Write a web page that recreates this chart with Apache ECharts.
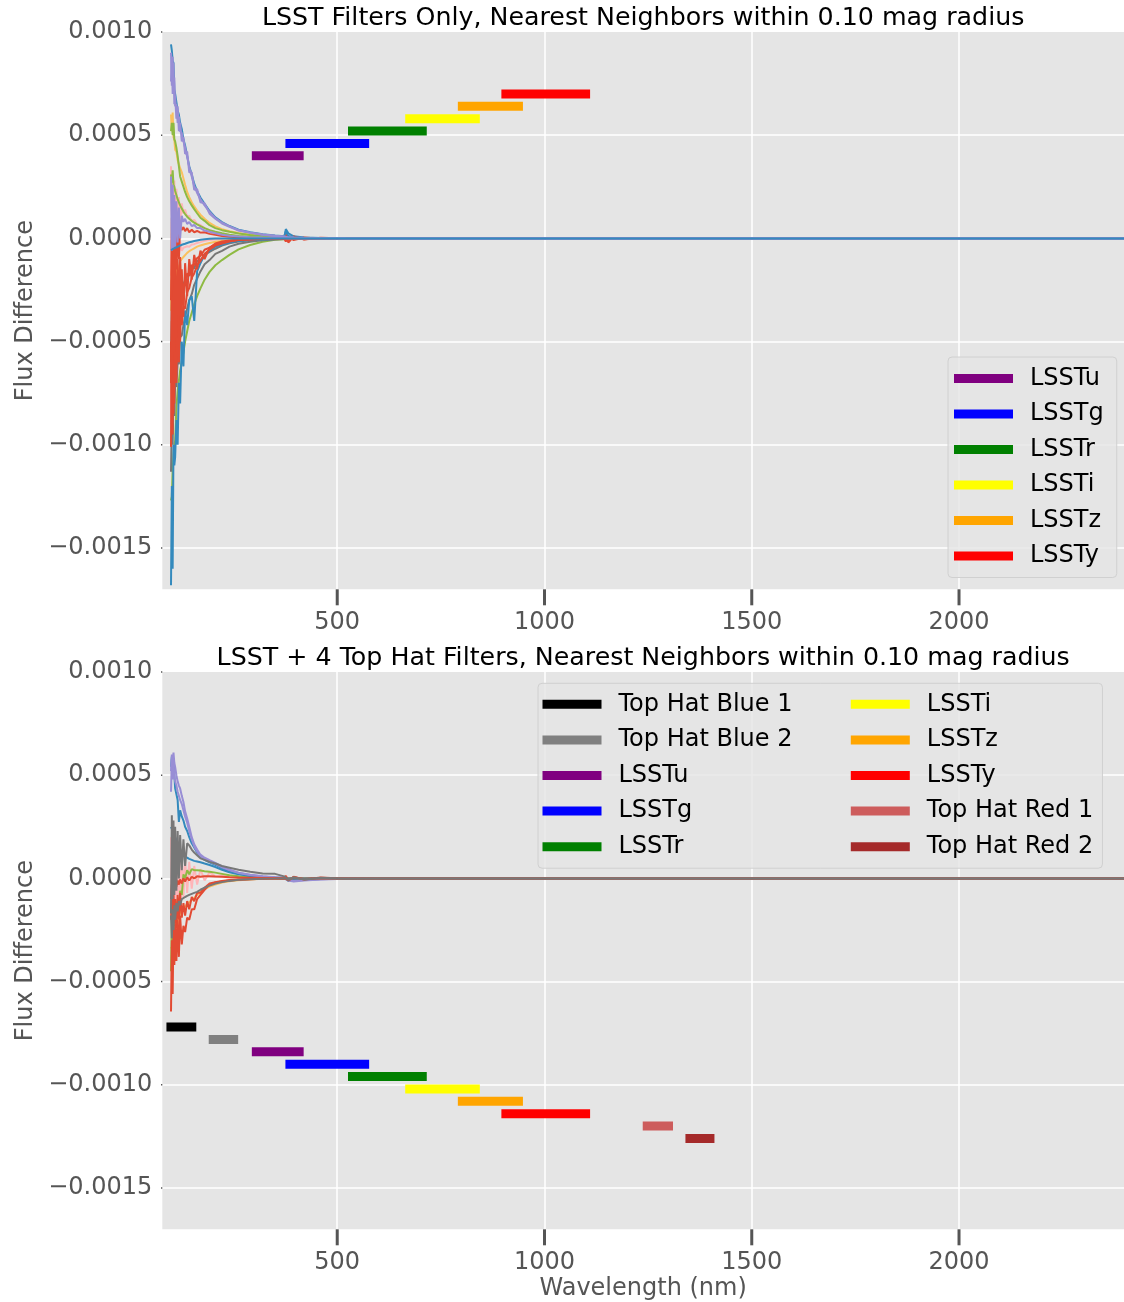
<!DOCTYPE html>
<html><head><meta charset="utf-8">
<script src="https://cdn.jsdelivr.net/npm/echarts@6/dist/echarts.min.js"></script>
<style>html,body{margin:0;padding:0;background:#fff}#c{width:1124px;height:1302px}</style>
</head><body><div id="c"></div>
<script>
// ---------------- data ----------------
// wavelength samples (nm) shared by the flux-difference curves
const wl = [99,101,103,105,107,109,112,115,118,121,125,129,133,138,143,149,155,162,170,180,192,206,222,240,262,290,320,350,372,376,382,395,420,460,520,600,800,1200,2400];
// curve values are in units of 1e-6 flux
const UNIT = 1e-6;

// top panel curves (LSST filters only)
const tK1 = [350,100,300,80,280,60,240,70,200,60,170,120,140,105,110,85,90,70,65,50,40,25,20,15,10,6,4,3,2,2,1,1,0,0,0,0,0,0,0];
const tK2 = [-180,0,-150,-20,-130,-10,-110,-20,-90,-15,-60,-45,-50,-38,-40,-30,-28,-22,-18,-12,-8,-5,-3,-2,-1,0,0,0,0,0,0,0,0,0,0,0,0,0,0];
const tY1 = [600,520,610,490,480,430,420,380,360,340,320,290,260,225,200,175,155,135,115,95,75,58,45,35,26,18,12,8,6,5,4,3,2,1,0,0,0,0,0];
const tY2 = [-350,-150,-300,-200,-250,-150,-200,-130,-150,-110,-110,-90,-85,-70,-62,-55,-48,-40,-34,-28,-22,-16,-12,-8,-5,-3,-2,-1,0,0,0,0,0,0,0,0,0,0,0];
const tG1 = [520,560,500,560,480,470,440,400,350,300,275,250,225,200,180,160,142,122,100,85,64,50,40,32,24,16,10,7,5,4,3,2,1,0,0,0,0,0,0];
const tG2 = [310,270,330,260,250,230,210,190,175,160,145,130,118,105,95,85,76,68,60,50,40,32,25,18,12,8,5,3,2,2,1,1,0,0,0,0,0,0,0];
const tG3 = [-1270,-1250,-1120,-1050,-1000,-980,-820,-740,-690,-640,-600,-550,-500,-450,-400,-360,-320,-280,-242,-200,-162,-130,-105,-80,-53,-32,-16,-7,-4,-3,-2,-1,0,0,0,0,0,0,0];
const tGr1 = [-1130,-880,-1000,-760,-860,-700,-720,-600,-610,-480,-470,-420,-380,-340,-300,-270,-225,-195,-160,-125,-105,-75,-60,-40,-26,-16,-9,-5,-3,-2,-1,0,0,0,0,0,0,0,0];
const tGr2 = [-600,-300,-560,-320,-480,-280,-420,-250,-350,-220,-270,-220,-220,-180,-180,-145,-145,-110,-105,-80,-65,-50,-35,-24,-15,-9,-5,-3,-2,-1,0,0,0,0,0,0,0,0,0];
const tB3 = [-1680,-1200,-1600,-1000,-1100,-1060,-880,-1000,-700,-800,-500,-620,-350,-420,-300,-280,-400,-160,-120,-80,-60,-40,-30,-20,-12,-8,-5,-3,-1,45,25,10,5,2,0,0,0,0,0];
const tR1 = [-1010,-400,-950,-350,-800,-300,-700,-250,-600,-200,-420,-330,-340,-260,-240,-190,-170,-130,-110,-75,-55,-35,-25,-15,-8,-5,-3,-2,-1,20,-20,10,-5,3,0,0,0,0,0];
const tR2 = [-700,-200,-650,-150,-550,-120,-480,-100,-400,-90,-300,-220,-230,-170,-180,-130,-130,-95,-85,-55,-45,-25,-15,-10,-6,-4,-2,-1,0,-15,10,-8,4,-2,0,0,0,0,0];
const tR3 = [-300,100,-250,80,-200,60,-150,70,-100,60,40,55,35,50,30,42,30,36,28,30,22,18,12,8,5,3,2,1,0,15,-15,8,-4,2,0,0,0,0,0];
const tR4 = [-500,-900,-300,-850,-250,-700,-200,-600,-180,-500,-150,-380,-120,-280,-100,-200,-80,-150,-60,-100,-45,-30,-20,-12,-7,-4,-2,-1,0,10,-10,5,-3,1,0,0,0,0,0];
const tP2 = [300,-60,260,-50,210,-40,180,-20,150,0,110,80,95,70,80,60,65,50,50,38,32,25,18,13,9,6,4,3,2,2,1,1,0,0,0,0,0,0,0];
const tB1 = [940,910,860,850,720,700,660,620,600,560,530,480,450,400,350,310,265,228,198,168,133,102,79,60,42,30,20,14,10,35,12,6,3,2,1,0,0,0,0];
const tP1 = [900,740,880,700,780,640,650,560,590,520,510,470,440,395,345,300,255,220,190,160,128,98,76,58,40,28,19,13,9,8,5,4,3,2,1,0,0,0,0];
const tP3 = [760,880,700,850,650,690,580,640,520,560,470,490,410,420,320,320,235,240,175,170,120,95,72,56,38,27,18,12,8,6,4,3,2,1,0,0,0,0,0];
const tB2 = [-57,-55,-53,-50,-48,-46,-43,-40,-37,-35,-31,-28,-26,-22,-19,-16,-13,-10,-7,-4,-2,-1,0,0,0,0,0,0,0,0,0,0,0,0,0,0,0,0,0];

// bottom panel curves (LSST + 4 top hat filters)
const bK1 = [200,-200,180,-180,160,-150,140,-130,120,-110,110,-90,95,-70,80,-50,60,-30,45,-10,30,10,15,8,5,3,2,1,0,0,0,0,0,0,0,0,0,0,0];
const bY1 = [-330,-340,-320,-310,-290,-260,-250,-220,-190,-170,-160,-145,-135,-125,-115,-105,-95,-80,-65,-52,-40,-30,-20,-14,-9,-5,-2,-1,0,0,0,0,0,0,0,0,0,0,0];
const bG1 = [-450,-200,-400,-180,-230,-150,-200,-100,-150,-60,-80,20,0,40,20,45,40,40,38,35,32,28,22,15,10,6,3,1,0,0,0,0,0,0,0,0,0,0,0];
const bB2 = [250,240,230,220,210,200,185,170,155,140,125,113,105,100,95,90,85,82,78,72,65,55,42,30,20,12,6,3,1,0,0,0,0,0,0,0,0,0,0];
const bB1 = [540,590,530,580,500,436,440,380,274,330,300,280,250,230,200,170,150,125,105,90,78,66,50,36,24,14,8,4,2,8,-12,-8,-6,-3,-1,0,0,0,0];
const bP2 = [420,580,480,560,500,470,450,420,400,380,360,330,300,270,230,190,155,130,108,95,82,70,54,40,26,16,9,5,3,1,-8,-12,-8,-4,-1,0,0,0,0];
const bP1 = [520,600,560,610,560,540,500,470,450,436,400,370,325,290,250,200,165,140,115,100,88,75,58,42,28,18,10,6,3,2,-10,-15,-10,-5,-2,0,0,0,0];
const bR3 = [-200,-80,-250,-60,-220,-100,-240,-80,-200,-70,-190,-120,-180,-110,-150,-90,-110,-70,-70,-45,-25,-18,-12,-8,-5,-3,-2,-1,0,8,-8,5,-3,1,0,0,0,0,0];
const bR1 = [-645,-300,-560,-250,-420,-220,-400,-200,-380,-180,-320,-230,-260,-190,-200,-150,-150,-100,-80,-55,-30,-20,-15,-10,-6,-4,-2,-1,0,10,-10,8,-5,4,-2,0,0,0,0];
const bR2 = [-100,-30,-60,-20,-50,-15,-40,-10,-30,-5,-25,0,-15,5,-10,8,0,10,8,10,10,9,8,6,4,3,2,1,0,12,-10,6,-3,2,0,0,0,0,0];
const bGr2 = [-180,-290,-150,-250,-130,-200,-120,-160,-110,-130,-100,-100,-90,-85,-80,-75,-70,-65,-55,-45,-35,-25,-18,-12,-7,-4,-2,-1,0,0,0,0,0,0,0,0,0,0,0];
const bGr1 = [-170,306,-100,280,-80,250,-60,230,0,210,40,190,60,170,160,140,125,112,97,90,80,72,60,52,42,32,24,22,10,14,-8,6,-6,3,-2,0,0,0,0];

// filter bands (wavelength range in nm, plotted level)
const topFilterNames = ['LSSTu','LSSTg','LSSTr','LSSTi','LSSTz','LSSTy'];
const topFilterLo = [294,375,526,664,791,896];
const topFilterHi = [419,577,716,844,948,1110];
const topFilterLevel = [0.00040,0.00046,0.00052,0.00058,0.00064,0.00070];

const botFilterNames = ['Top Hat Blue 1','Top Hat Blue 2','LSSTu','LSSTg','LSSTr','LSSTi','LSSTz','LSSTy','Top Hat Red 1','Top Hat Red 2'];
const botFilterLo = [88,190,294,375,526,664,791,896,1237,1340];
const botFilterHi = [160,261,419,577,716,844,948,1110,1310,1410];
const botFilterLevel = [-0.00072,-0.00078,-0.00084,-0.00090,-0.00096,-0.00102,-0.00108,-0.00114,-0.00120,-0.00126];

// tick labels
const xTicks = [500,1000,1500,2000];
const yTicks = [-0.0015,-0.0010,-0.0005,0,0.0005,0.0010];

// ---------------- styling ----------------
const FONT = 'DejaVu Sans';
const X_MIN = 78, X_MAX = 2398, Y_MIN = -0.0017, Y_MAX = 0.0010;
const GRID_W = 965, GRID_H = 557.3;
const C = {red:'#E24A33', blue:'#348ABD', purple:'#988ED5', gray:'#777777', yellow:'#FBC15E', green:'#8EBA42', pink:'#FFB5B8'};
const filterColor = {
  'LSSTu':'#800080','LSSTg':'#0000FF','LSSTr':'#008000','LSSTi':'#FFFF00','LSSTz':'#FFA500','LSSTy':'#FF0000',
  'Top Hat Blue 1':'#000000','Top Hat Blue 2':'#808080','Top Hat Red 1':'#CD5C5C','Top Hat Red 2':'#A52A2A'
};

function fmtY(v){
  if (Math.abs(v) < 1e-12) return '0.0000';
  return (v < 0 ? '\u2212' : '') + Math.abs(v).toFixed(4);
}

function curve(name, vals, color, xi, yi){
  return {
    name, type:'line', xAxisIndex:xi, yAxisIndex:yi, silent:true, symbol:'none', z:2,
    data: wl.map((w,i)=>[w, vals[i]*UNIT]),
    lineStyle:{color, width:2}, itemStyle:{color}, color
  };
}
function band(name, lo, hi, level, xi, yi){
  const color = filterColor[name];
  return {
    name, type:'line', xAxisIndex:xi, yAxisIndex:yi, silent:true, symbol:'none', z:3,
    data: [[lo, level],[hi, level]],
    lineStyle:{color, width:9, cap:'butt'}, itemStyle:{color}, color
  };
}
// outward tick marks (matplotlib style): short unclipped segments starting on the panel edge
const X_TICK_LEN = 16 * (Y_MAX - Y_MIN) / GRID_H;   // 16 px expressed in y units
const Y_TICK_LEN = 4 * (X_MAX - X_MIN) / GRID_W;    // 4 px expressed in x units
function tickMarks(xi, yi){
  const out = [];
  xTicks.forEach(v=>out.push({
    type:'line', xAxisIndex:xi, yAxisIndex:yi, silent:true, clip:false, symbol:'none', z:10,
    data:[[v, Y_MIN],[v, Y_MIN - X_TICK_LEN]],
    lineStyle:{color:'#555555', width:3, cap:'butt'}
  }));
  yTicks.forEach(v=>out.push({
    type:'line', xAxisIndex:xi, yAxisIndex:yi, silent:true, clip:false, symbol:'none', z:10,
    data:[[X_MIN - Y_TICK_LEN, v],[X_MIN, v]],
    lineStyle:{color:'#555555', width:1.5, cap:'butt'}
  }));
  return out;
}

function mainX(gi, name){
  return {
    type:'value', gridIndex:gi, min:X_MIN, max:X_MAX, position:'bottom',
    axisLine:{show:false, onZero:false},
    axisTick:{show:false},
    axisLabel:{customValues:xTicks, color:'#555555', fontSize:24, fontFamily:FONT, margin:21,
               formatter:(v)=>String(Math.round(v))},
    splitLine:{show:true, showMinLine:false, showMaxLine:false, lineStyle:{color:'#FFFFFF', width:1.5}},
    name: name || '', nameLocation:'middle', nameGap:47,
    nameTextStyle:{color:'#555555', fontSize:24, fontFamily:FONT}
  };
}
function titleX(gi, text){
  return {
    type:'value', gridIndex:gi, min:X_MIN, max:X_MAX, position:'top',
    axisLine:{show:false, onZero:false}, axisTick:{show:false}, axisLabel:{show:false}, splitLine:{show:false},
    name:text, nameLocation:'middle', nameGap:1,
    nameTextStyle:{color:'#000000', fontSize:25.3, fontFamily:FONT}
  };
}
function mainY(gi){
  return {
    type:'value', gridIndex:gi, min:Y_MIN, max:Y_MAX,
    axisLine:{show:false, onZero:false},
    axisTick:{show:false},
    axisLabel:{customValues:yTicks, formatter:fmtY, color:'#555555', fontSize:24, fontFamily:FONT, margin:10},
    splitLine:{show:true, showMinLine:false, showMaxLine:false, lineStyle:{color:'#FFFFFF', width:1.5}},
    name:'Flux Difference', nameLocation:'middle', nameGap:122, nameRotate:90,
    nameTextStyle:{color:'#555555', fontSize:24, fontFamily:FONT}
  };
}

const legendText = {color:'#000000', fontSize:24, fontFamily:FONT, lineHeight:26, padding:[0,0,0,12]};

const series = [
  curve('t pink 1', tK1, C.pink, 0, 0),
  curve('t pink 2', tK2, C.pink, 0, 0),
  curve('t yellow 1', tY1, C.yellow, 0, 0),
  curve('t yellow 2', tY2, C.yellow, 0, 0),
  curve('t green 1', tG1, C.green, 0, 0),
  curve('t green 2', tG2, C.green, 0, 0),
  curve('t green 3', tG3, C.green, 0, 0),
  curve('t gray 1', tGr1, C.gray, 0, 0),
  curve('t gray 2', tGr2, C.gray, 0, 0),
  curve('t blue 3', tB3, C.blue, 0, 0),
  curve('t red 4', tR4, C.red, 0, 0),
  curve('t red 1', tR1, C.red, 0, 0),
  curve('t red 2', tR2, C.red, 0, 0),
  curve('t red 3', tR3, C.red, 0, 0),
  curve('t purple 2', tP2, C.purple, 0, 0),
  curve('t blue 1', tB1, C.blue, 0, 0),
  curve('t purple 1', tP1, C.purple, 0, 0),
  curve('t purple 3', tP3, C.purple, 0, 0),
  curve('t blue 2', tB2, C.blue, 0, 0),

  curve('b pink 1', bK1, C.pink, 2, 1),
  curve('b yellow 1', bY1, C.yellow, 2, 1),
  curve('b green 1', bG1, C.green, 2, 1),
  curve('b blue 2', bB2, C.blue, 2, 1),
  curve('b blue 1', bB1, C.blue, 2, 1),
  curve('b purple 2', bP2, C.purple, 2, 1),
  curve('b purple 1', bP1, C.purple, 2, 1),
  curve('b red 3', bR3, C.red, 2, 1),
  curve('b red 1', bR1, C.red, 2, 1),
  curve('b red 2', bR2, C.red, 2, 1),
  curve('b gray 2', bGr2, C.gray, 2, 1),
  curve('b gray 1', bGr1, C.gray, 2, 1)
].concat(tickMarks(0, 0), tickMarks(2, 1));
topFilterNames.forEach((n,i)=>series.push(band(n, topFilterLo[i], topFilterHi[i], topFilterLevel[i], 0, 0)));
botFilterNames.forEach((n,i)=>series.push(band(n, botFilterLo[i], botFilterHi[i], botFilterLevel[i], 2, 1)));

const option = {
  animation:false,
  backgroundColor:'#FFFFFF',
  textStyle:{fontFamily:FONT},
  grid:[
    {left:162.3, top:32, width:GRID_W, height:GRID_H, show:true, backgroundColor:'#E5E5E5', borderWidth:0, containLabel:false},
    {left:162.3, top:672, width:GRID_W, height:GRID_H, show:true, backgroundColor:'#E5E5E5', borderWidth:0, containLabel:false}
  ],
  xAxis:[
    mainX(0, ''),
    titleX(0, 'LSST Filters Only, Nearest Neighbors within 0.10 mag radius'),
    mainX(1, 'Wavelength (nm)'),
    titleX(1, 'LSST + 4 Top Hat Filters, Nearest Neighbors within 0.10 mag radius')
  ],
  yAxis:[mainY(0), mainY(1)],
  legend:[
    {data:topFilterNames, orient:'vertical', left:948, top:357, padding:[8.5,13,8.5,6], itemGap:9.5,
     itemWidth:59, itemHeight:9, icon:'rect', selectedMode:false, z:4,
     backgroundColor:'rgba(229,229,229,0.8)', borderColor:'#D0D0D0', borderWidth:1, borderRadius:4,
     textStyle:legendText},
    {data:botFilterNames.slice(0,5), orient:'vertical', left:538, top:683.3, padding:[8,310,8.5,4.5], itemGap:9.6,
     itemWidth:59, itemHeight:9, icon:'rect', selectedMode:false, z:4,
     backgroundColor:'rgba(229,229,229,0.8)', borderColor:'#D0D0D0', borderWidth:1, borderRadius:4,
     textStyle:legendText},
    {data:botFilterNames.slice(5), orient:'vertical', left:850.8, top:683.3, padding:[8,0,8.5,0], itemGap:9.6,
     itemWidth:59, itemHeight:9, icon:'rect', selectedMode:false, z:6,
     textStyle:legendText}
  ],
  series
};
const chart = echarts.init(document.getElementById('c'), null, {renderer:'canvas'});
chart.setOption(option);
</script></body></html>
